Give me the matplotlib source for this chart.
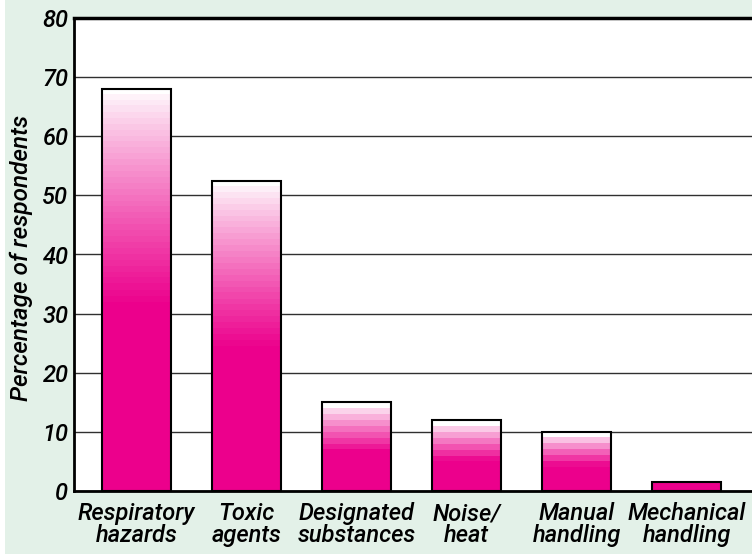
import numpy as np
import matplotlib.pyplot as plt
from matplotlib.patches import Rectangle
from matplotlib.colors import to_rgb

categories = ["Respiratory\nhazards", "Toxic\nagents", "Designated\nsubstances",
              "Noise/\nheat", "Manual\nhandling", "Mechanical\nhandling"]
values = [68, 52.5, 15, 12, 10, 1.5]
yticks = [0, 10, 20, 30, 40, 50, 60, 70, 80]

magenta = np.array(to_rgb("#EC008C"))
bg = "#E3F1E8"
font = ["Roboto", "DejaVu Sans"]
fs = 17

fig = plt.figure(figsize=(7.52, 5.59), dpi=100)
fig.patches.append(Rectangle((5 / 752, 5 / 559), 1, 1, transform=fig.transFigure,
                             facecolor=bg, edgecolor="none", zorder=-10))
ax = fig.add_axes([74 / 752, 68 / 559, 1 - 74 / 752, 473 / 559])

x = np.arange(len(values))
width = 0.63
ax.set_xlim(-0.568, 5.595)
ax.set_ylim(0, 80)

# banded gradient: 1-unit bands from the top, fading over the top half of each bar
for xi, h in zip(x, values):
    n = 600
    ys = (np.arange(n) + 0.5) / n * h
    k = np.floor(h - ys)
    f = np.clip(k / (0.53 * h), 0, 1) ** 0.85
    f[k == 0] = 0
    if h < 2:
        f[:] = 1  # tiny bars are plain magenta
    cols = (1 - f)[:, None] * np.ones(3) + f[:, None] * magenta
    img = cols[:, None, :]
    ax.imshow(img, extent=(xi - width / 2, xi + width / 2, 0, h), origin="lower",
              aspect="auto", interpolation="nearest", zorder=1)

ax.bar(x, values, width=width, facecolor="none", edgecolor="black",
       linewidth=1.5, zorder=2)

ax.set_yticks(yticks)
ax.set_yticklabels([str(t) for t in yticks], fontsize=fs, style="italic",
                   weight="medium", family=font)
ax.set_xticks(x)
ax.set_xticklabels(categories, fontsize=fs, style="italic", weight="medium",
                   family=font, linespacing=0.95)
ax.tick_params(axis="both", length=0)
ax.tick_params(axis="y", pad=4)
ax.tick_params(axis="x", pad=8)

ax.yaxis.grid(True, color="#303030", linewidth=1)
ax.set_axisbelow(True)

ax.spines["right"].set_visible(False)
for s in ["left", "bottom"]:
    ax.spines[s].set_linewidth(2)
ax.spines["top"].set_linewidth(2.5)

ax.set_ylabel("Percentage of respondents", fontsize=17.5, style="italic",
              weight="medium", family=font)
ax.yaxis.set_label_coords(-0.0605, 0.4926)

fig.savefig("out.png", dpi=100, facecolor="white")
